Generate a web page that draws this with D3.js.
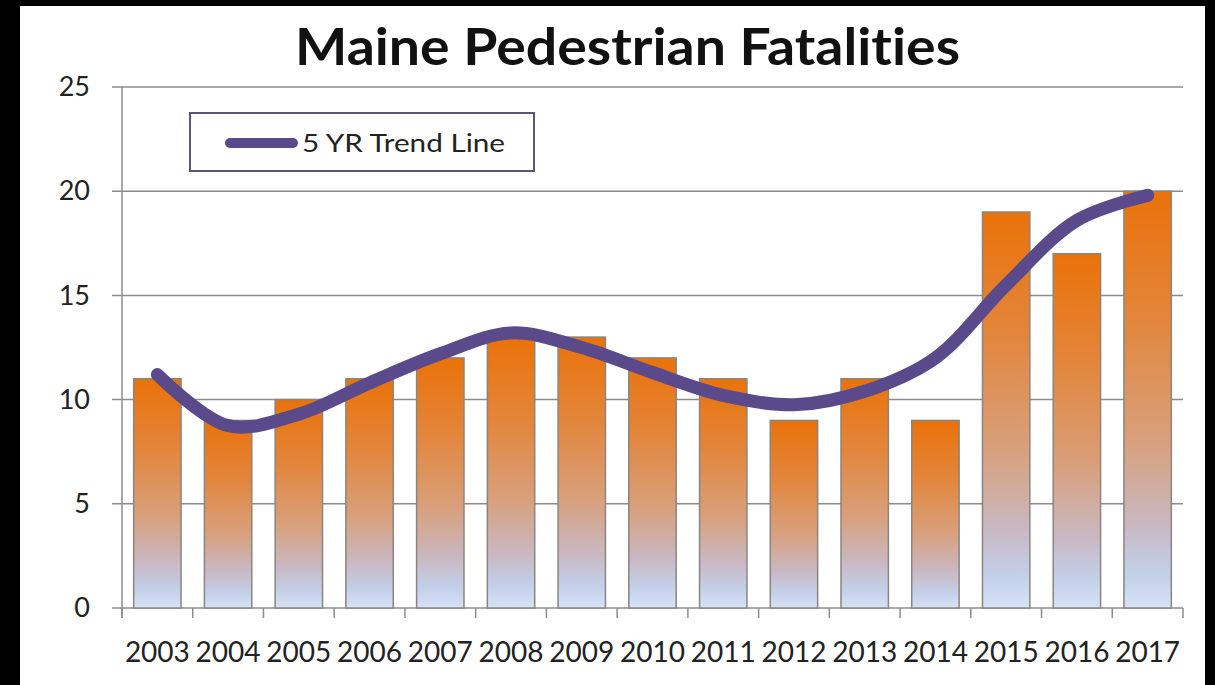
<!DOCTYPE html>
<html>
<head>
<meta charset="utf-8">
<script src="https://cdn.jsdelivr.net/npm/d3@7"></script>
<style>
  html, body { margin: 0; padding: 0; background: #000; }
  svg { display: block; }
  svg text { font-variant-ligatures: none; font-feature-settings: "liga" 0, "clig" 0; }
</style>
</head>
<body>
<div id="chart"></div>
<script>
// Data
const years = ["2003", "2004", "2005", "2006", "2007", "2008", "2009", "2010", "2011", "2012", "2013", "2014", "2015", "2016", "2017"];
const fatalities = [11, 9, 10, 11, 12, 13, 13, 12, 11, 9, 11, 9, 19, 17, 20];
const trend = [11.2, 8.75, 9.3, 10.8, 12.2, 13.2, 12.5, 11.3, 10.2, 9.75, 10.4, 12.0, 15.5, 18.6, 19.8];
const yTicks = [0, 5, 10, 15, 20, 25];
const seriesName = "5 YR Trend Line";
const chartTitle = "Maine Pedestrian Fatalities";

const width = 1215, height = 685;
const plot = { left: 122, right: 1183, top: 87, bottom: 608 };
const font = "Lato, 'Open Sans', sans-serif";

const svg = d3.select("#chart")
    .append("svg")
    .attr("width", width)
    .attr("height", height);

// black frame, white chart area
svg.append("rect").attr("width", width).attr("height", height).attr("fill", "#000");
svg.append("rect")
    .attr("x", 20).attr("y", 6)
    .attr("width", 1185).attr("height", 679)
    .attr("fill", "#fff");

// Scales
const x = d3.scaleBand()
    .domain(years)
    .range([plot.left, plot.right])
    .paddingInner(0.33)
    .paddingOuter(0.165);

const y = d3.scaleLinear()
    .domain([0, 25])
    .range([plot.bottom, plot.top]);

// Bar gradient (orange top -> light blue bottom)
const grad = svg.append("defs").append("linearGradient")
    .attr("id", "barGrad")
    .attr("x1", 0).attr("y1", 0).attr("x2", 0).attr("y2", 1);
[
    [0, "#ea7209"],
    [0.3, "#e3853a"],
    [0.6, "#d8a07c"],
    [0.8, "#c9b8c2"],
    [0.92, "#c3d0ea"],
    [1, "#d6e2f5"]
].forEach(([o, c]) => grad.append("stop").attr("offset", o).attr("stop-color", c));

// Gridlines
svg.append("g")
    .selectAll("line")
    .data(yTicks)
    .join("line")
    .attr("x1", plot.left - 10)
    .attr("x2", plot.right)
    .attr("y1", d => y(d))
    .attr("y2", d => y(d))
    .attr("stroke", "#8c8c8c")
    .attr("stroke-width", 1.5);

// Y axis labels
const yAxis = svg.append("g")
    .attr("transform", `translate(${plot.left - 10},0)`)
    .call(d3.axisLeft(y).tickValues(yTicks).tickSize(0).tickPadding(22));
yAxis.select(".domain").remove();
yAxis.selectAll("text")
    .attr("font-family", font)
    .attr("font-size", 27)
    .attr("fill", "#222");

// Bars
svg.append("g")
    .selectAll("rect")
    .data(fatalities)
    .join("rect")
    .attr("x", (d, i) => x(years[i]))
    .attr("y", d => y(d))
    .attr("width", x.bandwidth())
    .attr("height", d => y(0) - y(d))
    .attr("fill", "url(#barGrad)")
    .attr("stroke", "#8a8580")
    .attr("stroke-width", 1.5);

// Axis lines
svg.append("line")
    .attr("x1", plot.left).attr("x2", plot.left)
    .attr("y1", plot.top).attr("y2", plot.bottom + 10)
    .attr("stroke", "#8c8c8c").attr("stroke-width", 1.5);

// X axis with category boundary ticks
const step = x.step();
svg.append("g")
    .selectAll("line")
    .data(d3.range(years.length + 1))
    .join("line")
    .attr("x1", i => plot.left + i * step)
    .attr("x2", i => plot.left + i * step)
    .attr("y1", plot.bottom)
    .attr("y2", plot.bottom + 10)
    .attr("stroke", "#8c8c8c")
    .attr("stroke-width", 1.5);

const xAxis = svg.append("g")
    .attr("transform", `translate(0,${plot.bottom})`)
    .call(d3.axisBottom(x).tickSize(0).tickPadding(34));
xAxis.select(".domain").remove();
xAxis.selectAll("text")
    .attr("font-family", font)
    .attr("font-size", 28)
    .attr("fill", "#222");

// Trend line
const line = d3.line()
    .x((d, i) => x(years[i]) + x.bandwidth() / 2)
    .y(d => y(d))
    .curve(d3.curveCatmullRom.alpha(0.5));

svg.append("path")
    .datum(trend)
    .attr("d", line)
    .attr("fill", "none")
    .attr("stroke", "#5b4a8b")
    .attr("stroke-width", 13)
    .attr("stroke-linecap", "round")
    .attr("stroke-linejoin", "round");

// Legend
const legend = svg.append("g");
legend.append("rect")
    .attr("x", 190).attr("y", 113)
    .attr("width", 344).attr("height", 58)
    .attr("fill", "#fff")
    .attr("stroke", "#5e5576")
    .attr("stroke-width", 2);
legend.append("line")
    .attr("x1", 230).attr("x2", 293)
    .attr("y1", 143).attr("y2", 143)
    .attr("stroke", "#5b4a8b")
    .attr("stroke-width", 10)
    .attr("stroke-linecap", "round");
legend.append("text")
    .attr("x", 302).attr("y", 152)
    .attr("font-family", font)
    .attr("font-size", 25)
    .attr("fill", "#222")
    .attr("textLength", 203)
    .attr("lengthAdjust", "spacingAndGlyphs")
    .text(seriesName);

// Title
svg.append("text")
    .attr("x", 295).attr("y", 65)
    .attr("font-family", font)
    .attr("font-weight", "bold")
    .attr("font-size", 52)
    .attr("fill", "#111")
    .attr("textLength", 665)
    .attr("lengthAdjust", "spacingAndGlyphs")
    .text(chartTitle);
</script>
</body>
</html>
